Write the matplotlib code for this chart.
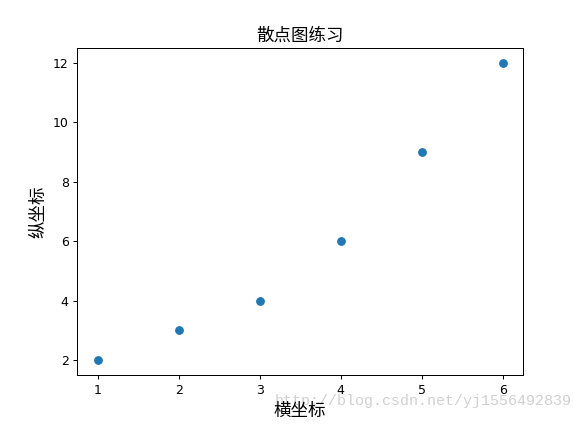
import matplotlib
matplotlib.use("Agg")
import matplotlib.pyplot as plt

plt.rcParams['font.family'] = ['Noto Sans CJK SC', 'DejaVu Sans']
plt.rcParams['axes.unicode_minus'] = False

x = [1, 2, 3, 4, 5, 6]
y = [2, 3, 4, 6, 9, 12]

fig = plt.figure(figsize=(574 / 90, 432 / 90), dpi=90)
ax = fig.add_subplot(111)
fig.subplots_adjust(left=0.135, right=0.911, bottom=0.132, top=0.889)

ax.scatter(x, y, color='tab:blue')
ax.set_title('散点图练习', fontsize=14)
ax.set_xlabel('横坐标', fontsize=14)
ax.set_ylabel('纵坐标', fontsize=14)
ax.set_yticks([2, 4, 6, 8, 10, 12])
for lab in ax.get_xticklabels() + ax.get_yticklabels():
    lab.set_family('DejaVu Sans')

# csdn watermark
fig.text(0.995, 0.055, 'http://blog.csdn.net/yj1556492839', ha='right', va='bottom',
         fontsize=12, color='#d0d0d0', family='Liberation Mono', zorder=-1)

fig.savefig('out.png', dpi=90)
